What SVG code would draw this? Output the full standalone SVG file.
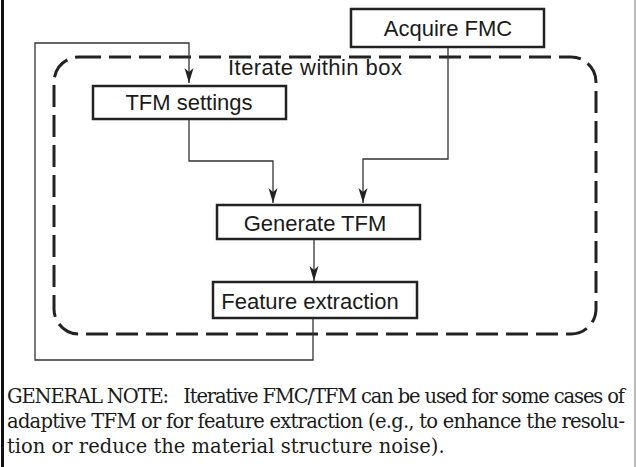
<svg xmlns="http://www.w3.org/2000/svg" width="636" height="467" viewBox="0 0 636 467">
  <style>
    .box { fill: #ffffff; stroke: #222222; stroke-width: 2.5; }
    .lbl { font-family: "Liberation Sans", Arial, sans-serif; font-size: 22px; fill: #1a1a1a; text-anchor: middle; }
    .conn { fill: none; stroke: #333333; stroke-width: 1.3; }
    .note { font-family: "DejaVu Serif", "Liberation Serif", serif; font-size: 19.5px; fill: #1a1a1a; }
  </style>
  <defs>
    <marker id="arr" viewBox="-16 -5 17 10" refX="0" refY="0" markerWidth="17" markerHeight="10" markerUnits="userSpaceOnUse" orient="auto">
      <path d="M0,0 L-15,-4.5 L-11,0 L-15,4.5 Z" fill="#222222"/>
    </marker>
  </defs>
  <rect width="636" height="467" fill="#ffffff"/>
  <line x1="2.5" y1="0" x2="2.5" y2="467" stroke="#111111" stroke-width="3"/>
  <line x1="635" y1="0" x2="635" y2="467" stroke="#777777" stroke-width="1"/>

  <g id="iterate-region">
    <rect x="54" y="57" width="542" height="277" rx="25" ry="25" fill="none" stroke="#222222" stroke-width="3" stroke-dasharray="22 8"/>
    <text x="228" y="75" font-family="Liberation Sans, Arial, sans-serif" font-size="22" textLength="174" lengthAdjust="spacing" fill="#1a1a1a">Iterate within box</text>
  </g>

  <g id="connectors">
    <path class="conn" d="M448,47 V159 H363 V203" marker-end="url(#arr)"/>
    <path class="conn" d="M189,119 V161 H273 V203" marker-end="url(#arr)"/>
    <path class="conn" d="M314,239 V281" marker-end="url(#arr)"/>
    <path class="conn" d="M313,318 V360 H35 V43 H189 V83" marker-end="url(#arr)"/>
  </g>

  <g id="acquire-fmc">
    <rect class="box" x="351" y="9" width="193" height="38"/>
    <text class="lbl" x="448" y="36">Acquire FMC</text>
  </g>
  <g id="tfm-settings">
    <rect class="box" x="93" y="86" width="193" height="33"/>
    <text class="lbl" x="189" y="110">TFM settings</text>
  </g>
  <g id="generate-tfm">
    <rect class="box" x="217" y="205" width="203" height="34"/>
    <text class="lbl" x="315" y="231">Generate TFM</text>
  </g>
  <g id="feature-extraction">
    <rect class="box" x="213" y="282" width="204" height="36"/>
    <text class="lbl" x="310" y="309">Feature extraction</text>
  </g>

  <g id="general-note">
    <text class="note" x="7" y="403" textLength="618" lengthAdjust="spacing" xml:space="preserve">GENERAL NOTE:   Iterative FMC/TFM can be used for some cases of</text>
    <text class="note" x="7" y="428" textLength="618" lengthAdjust="spacing">adaptive TFM or for feature extraction (e.g., to enhance the resolu-</text>
    <text class="note" x="7" y="453">tion or reduce the material structure noise).</text>
  </g>
</svg>
